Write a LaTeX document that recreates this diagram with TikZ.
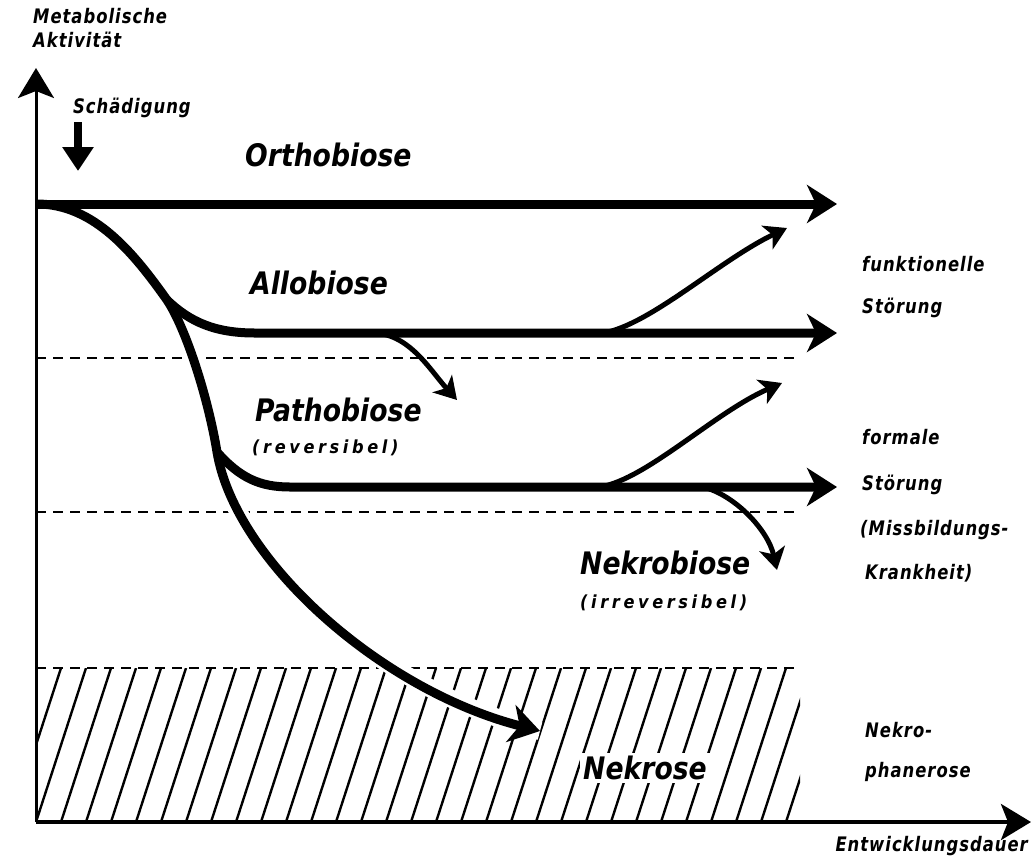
\documentclass[tikz,border=0pt]{standalone}
\usepackage{fontspec}
\setmainfont{DejaVu Sans}
\newfontfamily\bigfont[FakeStretch=0.86]{DejaVu Sans}
\newfontfamily\spaced[LetterSpace=5,FakeStretch=0.82]{DejaVu Sans}
\newfontfamily\wide[LetterSpace=20,FakeStretch=0.9]{DejaVu Sans}
\usetikzlibrary{arrows.meta}

\begin{document}
\begin{tikzpicture}[
  x=1pt, y=-1pt,
  big/.style={font=\bigfont\fontsize{31}{33}\selectfont\bfseries\itshape,anchor=west,inner sep=0pt},
  small/.style={font=\spaced\fontsize{20}{22}\selectfont\bfseries\itshape,anchor=west,inner sep=0pt},
  note/.style={font=\wide\fontsize{18}{20}\selectfont\bfseries\itshape,anchor=west,inner sep=0pt},
  course/.style={line width=9pt},
  branch/.style={line width=5pt},
  limit/.style={line width=2pt,dash pattern=on 10pt off 7pt}
]
  \useasboundingbox (0,0) rectangle (1032,860);

  % axes
  \coordinate (origin) at (36,822);
  \coordinate (yTip) at (36,68);
  \coordinate (xTip) at (1031,822);
  \draw[line width=3pt,-{Stealth[length=30pt,width=36pt,inset=7pt]}] (origin) -- (yTip);
  \draw[line width=4pt,-{Stealth[length=30pt,width=36pt,inset=7pt]}] (origin) -- (xTip);
  \node[small] (yLabelA) at (33,16) {Metabolische};
  \node[small] (yLabelB) at (33,40) {Aktivität};
  \node[small,anchor=east] (xLabel) at (1028,846) {Entwicklungsdauer};

  % damage
  \node[small] (dmgLabel) at (73,108) {Schädigung};
  \coordinate (dmg0) at (78,122);
  \coordinate (dmgTip) at (78,171);
  \draw[line width=8pt,-{Triangle[length=24pt,width=30pt]}] (dmg0) -- (dmgTip);

  % necrosis zone
  \begin{scope}
    \clip (36,668) rectangle (800,822);
    \foreach \i in {-3,...,31}
      \draw[line width=2.4pt] (61+\i*25,822) -- ++(50,-154);
  \end{scope}

  % limits
  \coordinate (l1a) at (36,358);
  \coordinate (l1b) at (800,358);
  \coordinate (l2a) at (36,512);
  \coordinate (l2b) at (800,512);
  \coordinate (l3a) at (36,668);
  \coordinate (l3b) at (800,668);
  \draw[limit] (l1a) -- (l1b);
  \draw[limit] (l2a) -- (l2b);
  \draw[limit] (l3a) -- (l3b);

  % main courses
  \coordinate (o0) at (37,204);
  \coordinate (oEnd) at (837,204);
  \coordinate (bA) at (167,300);
  \coordinate (bP) at (217,452);
  \coordinate (nEnd) at (540,731);
  \coordinate (aFlat) at (255,333);
  \coordinate (aEnd) at (837,333);
  \coordinate (pFlat) at (290,487);
  \coordinate (pEnd) at (837,487);

  \draw[white,line width=18pt] (bA) .. controls (187,330) and (209,402) .. (bP)
    .. controls (235,560) and (380,690) .. (nEnd);

  \draw[course,-{Stealth[length=30pt,width=38pt,inset=9pt]}] (o0) -- (oEnd);
  \draw[course,-{Stealth[length=30pt,width=38pt,inset=9pt]}] (o0)
    .. controls (95,204) and (135,255) .. (bA)
    .. controls (187,330) and (209,402) .. (bP)
    .. controls (235,560) and (380,690) .. (nEnd);
  \draw[course,-{Stealth[length=30pt,width=38pt,inset=9pt]}] (bA)
    .. controls (190,322) and (215,333) .. (aFlat) -- (aEnd);
  \draw[course,-{Stealth[length=30pt,width=38pt,inset=9pt]}] (bP)
    .. controls (240,478) and (260,487) .. (pFlat) -- (pEnd);

  % side courses
  \coordinate (aDown0) at (375,333);
  \coordinate (aDownTip) at (457,400);
  \coordinate (aUp0) at (603,333);
  \coordinate (aUpTip) at (787,228);
  \coordinate (pUp0) at (600,487);
  \coordinate (pUpTip) at (782,383);
  \coordinate (pDown0) at (703,487);
  \coordinate (pDownTip) at (777,570);
  \draw[branch,-{Stealth[length=22pt,width=26pt,inset=6pt]}] (aDown0)
    .. controls (410,335) and (430,370) .. (aDownTip);
  \draw[branch,-{Stealth[length=22pt,width=26pt,inset=6pt]}] (aUp0)
    .. controls (650,325) and (720,260) .. (aUpTip);
  \draw[branch,-{Stealth[length=22pt,width=26pt,inset=6pt]}] (pUp0)
    .. controls (647,479) and (715,412) .. (pUpTip);
  \draw[branch,-{Stealth[length=22pt,width=26pt,inset=6pt]}] (pDown0)
    .. controls (735,495) and (768,530) .. (pDownTip);

  % states
  \node[big] (ortho) at (245,155) {Orthobiose};
  \node[big] (allo) at (250,283) {Allobiose};
  \node[big] (patho) at (255,410) {Pathobiose};
  \node[note] (pathoNote) at (252,448) {(reversibel)};
  \node[big] (nekrobio) at (580,563) {Nekrobiose};
  \node[note] (nekrobioNote) at (580,603) {(irreversibel)};
  \node[big,anchor=center,fill=white,inner sep=3pt] (nekrose) at (645,768) {Nekrose};

  % disturbances
  \node[small] (funk) at (862,264) {funktionelle};
  \node[small] (funkB) at (862,308) {Störung};
  \node[small] (form) at (862,437) {formale};
  \node[small] (formB) at (862,485) {Störung};
  \node[small] (formC) at (860,530) {(Missbildungs-};
  \node[small] (formD) at (865,573) {Krankheit)};
  \node[small] (phan) at (865,730) {Nekro-};
  \node[small] (phanB) at (865,772) {phanerose};

\end{tikzpicture}
\end{document}
